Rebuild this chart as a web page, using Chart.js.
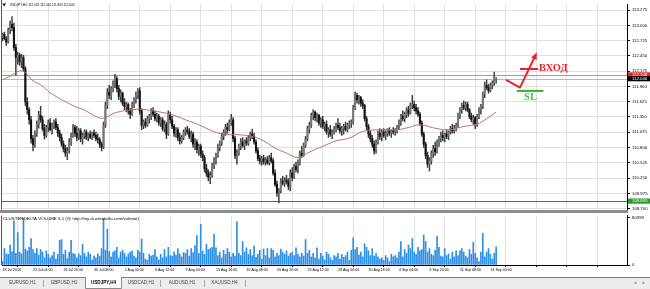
<!DOCTYPE html>
<html>
<head>
<meta charset="utf-8">
<script src="https://cdn.jsdelivr.net/npm/chart.js@4.4.1/dist/chart.umd.min.js"></script>
<style>
  body { margin: 0; background: #fff; width: 650px; height: 289px; overflow: hidden; }
  #wrap { position: relative; width: 650px; height: 289px; }
  canvas { position: absolute; left: 0; }
  #main { top: 0; }
  #vol { top: 211px; }
  #sep { position: absolute; left: 0; top: 210px; width: 628px; height: 3px; background: #8c8c8c; }
</style>
</head>
<body>
<div id="wrap">
  <canvas id="main" width="650" height="214"></canvas>
  <canvas id="vol" width="650" height="78"></canvas>
  <div id="sep"></div>
</div>
<script>
// USDJPY H4 candles: [open, high, low, close]
const candles = [
  [112.78,112.86,112.72,112.84],[112.84,112.88,112.74,112.76],[112.76,112.80,112.64,112.70],[112.70,112.95,112.68,112.92],[112.92,113.08,112.85,113.02],
  [113.02,113.16,112.90,112.96],[112.96,113.04,112.55,112.60],[112.60,112.66,112.10,112.42],[112.42,112.52,112.30,112.46],[112.46,112.50,112.28,112.34],
  [112.34,112.48,112.24,112.42],[112.42,112.46,112.18,112.22],[112.22,112.26,111.55,111.62],[111.62,111.70,111.40,111.48],[111.48,111.52,111.22,111.30],
  [111.30,111.36,110.88,110.96],[110.96,111.02,110.74,110.85],[110.85,111.10,110.80,111.05],[111.05,111.28,111.00,111.22],[111.22,111.45,111.15,111.38],
  [111.38,111.54,111.25,111.30],[111.30,111.36,111.10,111.14],[111.14,111.22,110.95,111.02],[111.02,111.20,110.98,111.16],[111.16,111.30,111.08,111.24],
  [111.24,111.32,111.10,111.12],[111.12,111.24,111.04,111.20],[111.20,111.30,111.14,111.26],[111.26,111.32,111.12,111.16],[111.16,111.22,111.00,111.06],
  [111.06,111.12,110.92,110.98],[110.98,111.04,110.82,110.86],[110.86,110.92,110.72,110.78],[110.78,110.84,110.64,110.70],[110.70,110.80,110.58,110.74],
  [110.74,110.96,110.70,110.90],[110.90,111.06,110.84,111.02],[111.02,111.22,110.98,111.16],[111.16,111.20,111.00,111.06],[111.06,111.18,110.92,110.98],
  [110.98,111.14,110.94,111.10],[111.10,111.14,110.90,110.96],[110.96,111.06,110.86,111.02],[111.02,111.12,110.96,111.08],[111.08,111.12,110.94,110.98],
  [110.98,111.06,110.92,111.04],[111.04,111.10,110.96,110.98],[110.98,111.08,110.94,111.06],[111.06,111.12,110.98,111.02],[111.02,111.08,110.92,110.96],
  [110.96,111.04,110.88,110.94],[110.94,110.98,110.80,110.86],[110.86,110.90,110.74,110.80],[110.80,111.26,110.78,111.20],[111.20,111.62,111.16,111.56],
  [111.56,111.86,111.50,111.80],[111.80,111.92,111.68,111.74],[111.74,111.90,111.66,111.86],[111.86,112.00,111.80,111.94],[111.94,112.12,111.88,112.04],
  [112.04,112.08,111.80,111.86],[111.86,111.92,111.66,111.72],[111.72,111.84,111.62,111.78],[111.78,111.80,111.56,111.60],[111.60,111.68,111.48,111.54],
  [111.54,111.62,111.44,111.58],[111.58,111.60,111.40,111.46],[111.46,111.50,111.32,111.40],[111.40,111.62,111.38,111.58],[111.58,111.70,111.52,111.66],
  [111.66,111.80,111.60,111.74],[111.74,111.86,111.68,111.82],[111.82,111.88,111.40,111.46],[111.46,111.50,111.12,111.20],[111.20,111.30,111.14,111.26],
  [111.26,111.32,111.16,111.20],[111.20,111.36,111.18,111.32],[111.32,111.40,111.24,111.36],[111.36,111.50,111.30,111.46],[111.46,111.52,111.36,111.40],
  [111.40,111.46,111.28,111.32],[111.32,111.42,111.26,111.36],[111.36,111.40,111.20,111.24],[111.24,111.34,111.18,111.30],[111.30,111.34,111.10,111.14],
  [111.14,111.28,111.08,111.22],[111.22,111.26,110.96,111.04],[111.04,111.46,111.02,111.40],[111.40,111.44,111.24,111.30],[111.30,111.36,111.14,111.18],
  [111.18,111.22,111.00,111.06],[111.06,111.16,110.98,111.12],[111.12,111.16,110.92,110.98],[110.98,111.06,110.86,110.92],[110.92,111.02,110.88,110.98],
  [110.98,111.12,110.94,111.08],[111.08,111.16,111.02,111.12],[111.12,111.18,111.04,111.08],[111.08,111.14,110.96,111.00],[111.00,111.10,110.90,111.04],
  [111.04,111.08,110.80,110.86],[110.86,110.96,110.76,110.90],[110.90,110.94,110.70,110.76],[110.76,110.86,110.66,110.82],[110.82,110.86,110.62,110.68],
  [110.68,110.74,110.56,110.62],[110.62,110.66,110.36,110.42],[110.42,110.50,110.28,110.34],[110.34,110.40,110.20,110.26],[110.26,110.36,110.15,110.30],
  [110.30,110.52,110.26,110.48],[110.48,110.62,110.42,110.58],[110.58,110.70,110.50,110.66],[110.66,110.86,110.62,110.80],[110.80,110.92,110.74,110.88],
  [110.88,111.06,110.84,111.00],[111.00,111.12,110.94,111.08],[111.08,111.22,111.02,111.16],[111.16,111.24,111.06,111.12],[111.12,111.30,111.10,111.26],
  [111.26,111.40,111.20,111.30],[111.30,111.34,110.90,110.96],[110.96,111.00,110.60,110.66],[110.66,110.76,110.50,110.70],[110.70,110.86,110.66,110.82],
  [110.82,110.96,110.76,110.90],[110.90,110.98,110.80,110.84],[110.84,110.94,110.76,110.92],[110.92,110.98,110.84,110.88],[110.88,111.02,110.84,110.98],
  [110.98,111.08,110.92,111.04],[111.04,111.13,110.96,111.00],[111.00,111.06,110.86,110.90],[110.90,110.94,110.70,110.74],[110.74,110.80,110.56,110.60],
  [110.60,110.66,110.50,110.56],[110.56,110.64,110.48,110.60],[110.60,110.66,110.50,110.54],[110.54,110.62,110.48,110.58],[110.58,110.64,110.50,110.52],
  [110.52,110.66,110.48,110.62],[110.62,110.70,110.52,110.56],[110.56,110.60,110.30,110.34],[110.34,110.40,110.10,110.14],[110.14,110.20,109.92,109.98],
  [109.98,110.06,109.80,110.02],[110.02,110.24,109.98,110.20],[110.20,110.28,110.12,110.16],[110.16,110.26,110.10,110.22],[110.22,110.30,110.14,110.18],
  [110.18,110.24,110.04,110.10],[110.10,110.40,110.02,110.34],[110.34,110.44,110.20,110.26],[110.26,110.50,110.24,110.46],[110.46,110.54,110.36,110.40],
  [110.40,110.58,110.34,110.52],[110.52,110.74,110.48,110.70],[110.70,110.82,110.62,110.66],[110.66,110.88,110.64,110.84],[110.84,111.00,110.80,110.96],
  [110.96,111.18,110.92,111.14],[111.14,111.26,111.06,111.20],[111.20,111.42,111.16,111.38],[111.38,111.48,111.30,111.44],[111.44,111.46,111.28,111.34],
  [111.34,111.42,111.26,111.38],[111.38,111.40,111.20,111.24],[111.24,111.34,111.16,111.30],[111.30,111.36,111.14,111.18],[111.18,111.26,111.10,111.22],
  [111.22,111.28,111.04,111.08],[111.08,111.16,110.98,111.12],[111.12,111.20,111.00,111.04],[111.04,111.12,110.96,111.08],[111.08,111.18,111.04,111.14],
  [111.14,111.24,111.08,111.20],[111.20,111.32,111.12,111.16],[111.16,111.24,111.06,111.10],[111.10,111.18,111.02,111.14],[111.14,111.22,111.04,111.18],
  [111.18,111.26,111.10,111.12],[111.12,111.24,111.08,111.20],[111.20,111.28,111.14,111.24],[111.24,111.30,111.16,111.26],[111.26,111.56,111.22,111.52],
  [111.52,111.80,111.48,111.74],[111.74,111.78,111.60,111.66],[111.66,111.74,111.58,111.70],[111.70,111.72,111.54,111.60],[111.60,111.66,111.50,111.56],
  [111.56,111.58,111.28,111.32],[111.32,111.36,111.12,111.18],[111.18,111.22,110.98,111.04],[111.04,111.10,110.90,110.96],[110.96,111.02,110.80,110.86],
  [110.86,110.92,110.68,110.74],[110.74,110.94,110.70,110.90],[110.90,111.10,110.86,111.06],[111.06,111.14,110.94,111.00],[111.00,111.12,110.92,111.08],
  [111.08,111.14,110.98,111.02],[111.02,111.10,110.94,111.06],[111.06,111.14,111.00,111.10],[111.10,111.16,111.02,111.06],[111.06,111.12,110.98,111.10],
  [111.10,111.16,111.04,111.08],[111.08,111.14,111.02,111.12],[111.12,111.20,111.06,111.16],[111.16,111.30,111.12,111.26],[111.26,111.40,111.20,111.36],
  [111.36,111.46,111.28,111.32],[111.32,111.44,111.26,111.40],[111.40,111.52,111.34,111.48],[111.48,111.54,111.36,111.42],[111.42,111.60,111.40,111.56],
  [111.56,111.74,111.50,111.58],[111.58,111.64,111.46,111.52],[111.52,111.58,111.40,111.46],[111.46,111.52,111.36,111.40],[111.40,111.44,111.20,111.24],
  [111.24,111.28,111.00,111.04],[111.04,111.08,110.80,110.86],[110.86,110.90,110.60,110.66],[110.66,110.72,110.44,110.50],[110.50,110.62,110.38,110.56],
  [110.56,110.74,110.50,110.70],[110.70,110.84,110.62,110.78],[110.78,110.90,110.66,110.72],[110.72,110.94,110.70,110.90],[110.90,111.00,110.82,110.96],
  [110.96,111.08,110.90,111.02],[111.02,111.10,110.92,110.98],[110.98,111.06,110.90,111.04],[111.04,111.12,110.96,111.00],[111.00,111.10,110.94,111.08],
  [111.08,111.18,111.04,111.14],[111.14,111.22,111.06,111.10],[111.10,111.20,111.06,111.16],[111.16,111.24,111.10,111.20],[111.20,111.42,111.16,111.38],
  [111.38,111.52,111.32,111.48],[111.48,111.60,111.42,111.56],[111.56,111.64,111.48,111.52],[111.52,111.62,111.46,111.58],[111.58,111.62,111.44,111.48],
  [111.48,111.50,111.32,111.36],[111.36,111.42,111.26,111.30],[111.30,111.38,111.22,111.34],[111.34,111.36,111.14,111.22],[111.22,111.40,111.18,111.36],
  [111.36,111.52,111.32,111.48],[111.48,111.58,111.40,111.54],[111.54,111.80,111.50,111.76],[111.76,111.98,111.70,111.92],[111.92,112.02,111.84,111.88],
  [111.88,111.94,111.78,111.82],[111.82,111.96,111.80,111.92],[111.92,112.00,111.86,111.96],[111.96,112.16,111.92,112.08],[112.02,112.06,111.96,112.04]
];

// ClusterDelta volume per candle, thousands
const volumes = [
  6,28,19,18,34,23,75,20,55,22,   19,79,27,24,30,45,26,20,28,17,
  26,22,12,24,18,12,16,22,10,18,  42,43,18,25,11,22,42,20,18,12,
  19,16,35,20,14,22,18,9,15,12,   19,15,28,78,25,61,23,14,22,24,
  30,12,22,25,20,14,19,22,24,15,  12,25,22,44,20,10,8,18,15,17,
  26,14,9,18,12,26,14,30,16,15,   22,17,28,19,14,21,20,26,15,28,
  21,33,50,20,69,24,18,35,26,28,  30,52,29,16,22,12,25,18,28,22,
  14,20,15,74,20,16,40,22,29,18,  26,16,32,13,18,25,10,27,16,28,
  12,28,25,14,20,16,27,22,18,24,  15,20,22,16,29,18,14,20,15,43,
  20,25,14,20,12,29,10,20,15,9,   22,18,12,8,16,14,20,10,18,13,
  16,22,8,25,46,26,30,17,22,14,   36,30,24,16,28,15,20,14,10,12,
  8,16,12,6,18,14,16,12,22,40,    14,26,20,34,28,45,22,18,30,24,
  26,51,40,22,28,18,16,25,49,30,  15,14,28,16,19,10,22,14,24,16,
  24,28,22,15,12,26,18,39,20,12,  6,22,54,14,22,28,18,10,20,31
];

// moving average, read at these candle indexes
const maIndex  = [0,4,9,12,16,20,25,30,34,38,42,47,51,54,58,62,66,72,79,88,96,103,110,116,124,131,137,143,149,155,160,165,170,175,182,189,198,207,213,219,228,235,242,249,254,259];
const maValues = [112.02,112.09,112.18,112.15,112.00,111.93,111.79,111.68,111.61,111.54,111.49,111.40,111.33,111.34,111.41,111.45,111.47,111.49,111.46,111.40,111.30,111.21,111.10,111.04,111.03,111.00,110.92,110.79,110.70,110.62,110.70,110.78,110.85,110.92,110.97,111.09,111.12,111.12,111.16,111.21,111.14,111.12,111.18,111.22,111.32,111.44];

const dateLabels = ['18 Jul 2016','22 Jul 04:00','26 Jul 20:00','30 Jul 08:00','2 Aug 00:00','6 Aug 12:00','9 Aug 04:00','13 Aug 16:00','16 Aug 08:00','20 Aug 20:00','23 Aug 12:00','28 Aug 00:00','30 Aug 16:00','4 Sep 04:00','6 Sep 20:00','11 Sep 08:00','14 Sep 00:00'];
const priceTicks = [109.700,109.975,110.250,110.525,110.800,111.075,111.350,111.625,111.900,112.175,112.450,112.725,113.000,113.275];
const volumeTop = 80.393;

// horizontal levels with their price-axis tags
const levels = [
  { value: 112.108, line: '#cc8a8a', tag: '#e32626' },
  { value: 112.040, line: '#b8b8b8', tag: '#000000' },
  { value: 109.835, line: '#2f8a2f', tag: '#2e9a2e' }
];

// hand drawn trade idea, in candle index / price
const entryArrow = [[264.2,112.02],[271.5,111.88],[279.9,112.48]];
const entryBar = [[271.5,112.215],[281,112.215]];
const entryText = { x: 281.5, y: 112.23, text: 'ВХОД' };
const slLine = [[269.8,111.82],[283.8,111.82]];
const slText = { x: 277, y: 111.70, text: 'SL' };

const header = 'USDJPY,H4  112.023 112.061 111.963 112.040';
const volTitle = 'CLUSTERDELTA VOLUME 5.1 (@ http://my.clusterdelta.com/volume)';
const tabs = ['EURUSD,H1','GBPUSD,H1','USDJPY,H4','USDCAD,H1','AUDUSD,H1','XAUUSD,H4'];
const activeTab = 2;

const FONT = '"Liberation Sans", Arial, sans-serif';
const gridColor = '#e0e0e0';
const xMin = -0.26, xMax = 327.65;
const candlesPerLabel = 16;
const xTicks = [];
for (let v = 0; v <= xMax; v += candlesPerLabel) xTicks.push({ value: v });

const bull = '#777', bear = '#111';
const bodyColors = candles.map(c => c[3] >= c[0] ? bull : bear);

const mainOverlay = {
  id: 'mainOverlay',
  beforeDatasetsDraw(chart) {
    const { ctx, chartArea: a, scales: { y } } = chart;
    ctx.save();
    ctx.lineWidth = 1;
    levels.forEach(l => {
      const py = Math.round(y.getPixelForValue(l.value)) + 0.5;
      ctx.strokeStyle = l.line;
      ctx.beginPath(); ctx.moveTo(a.left, py); ctx.lineTo(a.right, py); ctx.stroke();
    });
    ctx.restore();
  },
  afterDraw(chart) {
    const { ctx, chartArea: a, scales: { x, y } } = chart;
    const P = p => [x.getPixelForValue(p[0]), y.getPixelForValue(p[1])];
    ctx.save();
    // left frame
    ctx.strokeStyle = '#555';
    ctx.beginPath(); ctx.moveTo(1.5, 0); ctx.lineTo(1.5, a.bottom); ctx.stroke();
    // header
    ctx.fillStyle = '#000';
    ctx.beginPath(); ctx.moveTo(2.5, 3.5); ctx.lineTo(6, 3.5); ctx.lineTo(4.2, 6.5); ctx.fill();
    ctx.font = '3.1px ' + FONT;
    ctx.textBaseline = 'middle';
    ctx.fillText(header, 10, 5.5);

    // red entry arrow
    ctx.strokeStyle = '#e8242a'; ctx.fillStyle = '#e8242a';
    ctx.lineWidth = 2; ctx.lineJoin = 'round';
    ctx.beginPath();
    entryArrow.forEach((p, k) => { const q = P(p); k ? ctx.lineTo(q[0], q[1]) : ctx.moveTo(q[0], q[1]); });
    ctx.stroke();
    const tip = P(entryArrow[entryArrow.length - 1]), prev = P(entryArrow[entryArrow.length - 2]);
    const ang = Math.atan2(tip[1] - prev[1], tip[0] - prev[0]);
    ctx.beginPath();
    ctx.moveTo(tip[0] + 2 * Math.cos(ang), tip[1] + 2 * Math.sin(ang));
    ctx.lineTo(tip[0] - 5 * Math.cos(ang) + 3 * Math.sin(ang), tip[1] - 5 * Math.sin(ang) - 3 * Math.cos(ang));
    ctx.lineTo(tip[0] - 5 * Math.cos(ang) - 3 * Math.sin(ang), tip[1] - 5 * Math.sin(ang) + 3 * Math.cos(ang));
    ctx.closePath(); ctx.fill();
    let b0 = P(entryBar[0]), b1 = P(entryBar[1]);
    ctx.beginPath(); ctx.moveTo(b0[0], b0[1]); ctx.lineTo(b1[0], b1[1]); ctx.stroke();
    ctx.font = 'bold 10.5px "Liberation Serif", serif';
    ctx.textAlign = 'left';
    let t = P([entryText.x, entryText.y]);
    ctx.fillText(entryText.text, t[0], t[1]);

    // stop loss
    ctx.strokeStyle = '#2fb52f'; ctx.fillStyle = '#46c046';
    b0 = P(slLine[0]); b1 = P(slLine[1]);
    ctx.beginPath(); ctx.moveTo(b0[0], b0[1]); ctx.lineTo(b1[0], b1[1]); ctx.stroke();
    ctx.textAlign = 'center';
    t = P([slText.x, slText.y]);
    ctx.fillText(slText.text, t[0], t[1]);

    // price tags on the axis
    ctx.font = '4.3px ' + FONT;
    ctx.textAlign = 'left';
    levels.forEach(l => {
      const py = y.getPixelForValue(l.value);
      ctx.fillStyle = l.tag;
      ctx.fillRect(a.right + 1, py - 2.6, 650 - a.right - 1, 5.2);
      ctx.fillStyle = '#fff';
      ctx.fillText(l.value.toFixed(3), a.right + 5, py + 0.2);
    });
    ctx.restore();
  }
};

new Chart(document.getElementById('main'), {
  type: 'bar',
  data: {
    datasets: [
      {
        type: 'line', data: maIndex.map((v, k) => ({ x: v, y: maValues[k] })),
        borderColor: '#b9716c', borderWidth: 1, pointRadius: 0, tension: 0.4, order: 0
      },
      {
        data: candles.map((c, i) => ({ x: i, y: [c[0], c[3]] })),
        backgroundColor: bodyColors, barThickness: 1.4, minBarLength: 1, grouped: false, order: 1
      },
      {
        data: candles.map((c, i) => ({ x: i, y: [c[2], c[1]] })),
        backgroundColor: '#3a3a3a', barThickness: 0.8, grouped: false, order: 2
      }
    ]
  },
  options: {
    responsive: false, animation: false, events: [],
    layout: { padding: { left: 2, top: 0, right: 0, bottom: 4 } },
    plugins: { legend: { display: false }, tooltip: { enabled: false } },
    scales: {
      x: {
        type: 'linear', min: xMin, max: xMax, offset: false,
        afterBuildTicks: s => { s.ticks = xTicks.slice(); },
        ticks: { display: false },
        grid: { color: gridColor, drawTicks: false },
        border: { display: false },
        afterFit: s => { s.height = 0; }
      },
      y: {
        position: 'right', min: 109.685, max: 113.375,
        afterBuildTicks: s => { s.ticks = priceTicks.map(v => ({ value: v })); },
        ticks: { callback: v => v.toFixed(3), font: { size: 4.3, family: FONT }, color: '#000', padding: 2, autoSkip: false },
        grid: { color: gridColor, tickColor: '#000', tickLength: 3 },
        border: { color: '#000' },
        afterFit: s => { s.width = 23; }
      }
    }
  },
  plugins: [mainOverlay]
});

const volOverlay = {
  id: 'volOverlay',
  afterDraw(chart) {
    const { ctx, chartArea: a } = chart;
    ctx.save();
    ctx.strokeStyle = '#555'; ctx.lineWidth = 1;
    ctx.beginPath(); ctx.moveTo(1.5, a.top); ctx.lineTo(1.5, a.bottom); ctx.stroke();
    ctx.fillStyle = '#000';
    ctx.font = '4.4px ' + FONT;
    ctx.textBaseline = 'middle';
    ctx.fillText(volTitle, 3, a.top + 3.5);

    // symbol tabs
    const top = 66;
    ctx.fillStyle = '#ececec';
    ctx.fillRect(0, top, 650, 12);
    ctx.fillStyle = '#7c7c7c';
    ctx.fillRect(0, top, 650, 1);
    const edges = [2, 43, 85, 122, 160, 204, 245];
    ctx.fillStyle = '#fff';
    ctx.fillRect(edges[activeTab], top, edges[activeTab + 1] - edges[activeTab], 12);
    ctx.strokeStyle = '#8a8a8a';
    ctx.beginPath();
    ctx.moveTo(edges[activeTab] + 0.5, top); ctx.lineTo(edges[activeTab] + 0.5, top + 11.5);
    ctx.lineTo(edges[activeTab + 1] - 0.5, top + 11.5); ctx.lineTo(edges[activeTab + 1] - 0.5, top);
    ctx.stroke();
    ctx.strokeStyle = '#a8a8a8';
    edges.slice(1).forEach((e, k) => {
      if (k === activeTab || k === activeTab - 1) return;
      ctx.beginPath(); ctx.moveTo(e + 0.5, top + 3); ctx.lineTo(e + 0.5, top + 10); ctx.stroke();
    });
    tabs.forEach((name, k) => {
      ctx.fillStyle = k === activeTab ? '#000' : '#444';
      ctx.font = (k === activeTab ? 'bold ' : '') + '4.6px ' + FONT;
      ctx.textAlign = 'center';
      ctx.fillText(name, (edges[k] + edges[k + 1]) / 2, top + 6);
    });
    // scroll arrows
    ctx.fillStyle = '#9a9a9a';
    ctx.beginPath(); ctx.moveTo(634, top + 6); ctx.lineTo(636.5, top + 4.5); ctx.lineTo(636.5, top + 7.5); ctx.fill();
    ctx.beginPath(); ctx.moveTo(645, top + 6); ctx.lineTo(642.5, top + 4.5); ctx.lineTo(642.5, top + 7.5); ctx.fill();
    ctx.restore();
  }
};

new Chart(document.getElementById('vol'), {
  type: 'bar',
  data: {
    datasets: [{
      data: volumes.map((v, i) => ({ x: i, y: v })),
      backgroundColor: '#2c8fe6', barThickness: 1
    }]
  },
  options: {
    responsive: false, animation: false, events: [],
    layout: { padding: { left: 2, top: 2, right: 0, bottom: 12 } },
    plugins: { legend: { display: false }, tooltip: { enabled: false } },
    scales: {
      x: {
        type: 'linear', min: xMin, max: xMax, offset: false,
        afterBuildTicks: s => { s.ticks = xTicks.slice(); },
        ticks: {
          callback: (v, k) => dateLabels[k] || '',
          font: { size: 3.6, family: FONT }, color: '#000', align: 'start',
          padding: 1, autoSkip: false, maxRotation: 0
        },
        grid: { color: gridColor, tickColor: '#000', tickLength: 2 },
        border: { color: '#000' },
        afterFit: s => { s.height = 12; }
      },
      y: {
        position: 'right', min: 0, max: 84,
        afterBuildTicks: s => { s.ticks = [{ value: 0 }, { value: volumeTop }]; },
        ticks: { callback: v => String(Math.round(v * 1000)), font: { size: 4.3, family: FONT }, color: '#000', padding: 2, autoSkip: false },
        grid: { drawOnChartArea: false, tickColor: '#000', tickLength: 3 },
        border: { color: '#000' },
        afterFit: s => { s.width = 23; }
      }
    }
  },
  plugins: [volOverlay]
});
</script>
</body>
</html>
